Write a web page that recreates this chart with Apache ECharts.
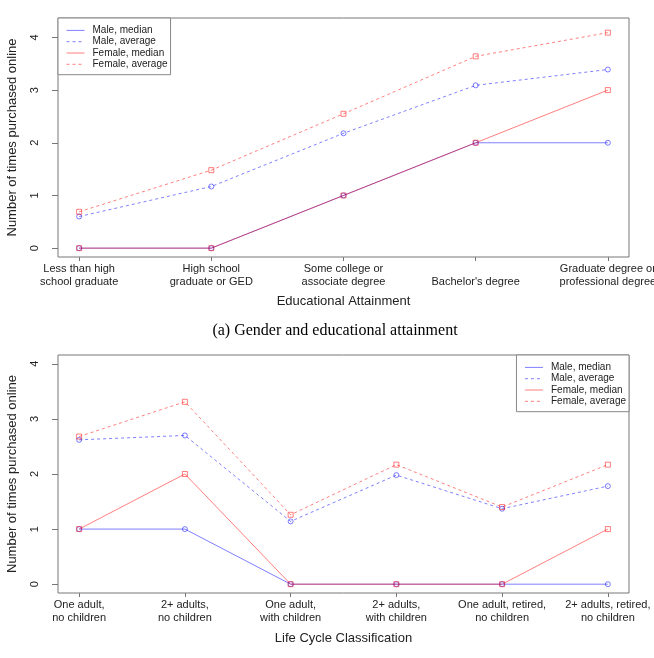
<!DOCTYPE html>
<html>
<head>
<meta charset="utf-8">
<script src="https://cdn.jsdelivr.net/npm/echarts@6/dist/echarts.min.js"></script>
<style>
html,body{margin:0;padding:0;background:#fff;}
#chart{width:654px;height:658px;}
</style>
</head>
<body>
<div id="chart"></div>
<script>
// ---- Data ----
const eduCategories = ['Less than high\nschool graduate', 'High school\ngraduate or GED', 'Some college or\nassociate degree', "\nBachelor's degree", 'Graduate degree or\nprofessional degree'];
const eduMaleMedian = [0, 0, 1, 2, 2];
const eduMaleAverage = [0.60, 1.17, 2.18, 3.09, 3.39];
const eduFemaleMedian = [0, 0, 1, 2, 3];
const eduFemaleAverage = [0.69, 1.48, 2.55, 3.64, 4.09];

const lifeCategories = ['One adult,\nno children', '2+ adults,\nno children', 'One adult,\nwith children', '2+ adults,\nwith children', 'One adult, retired,\nno children', '2+ adults, retired,\nno children'];
const lifeMaleMedian = [1, 1, 0, 0, 0, 0];
const lifeMaleAverage = [2.62, 2.70, 1.14, 1.98, 1.37, 1.78];
const lifeFemaleMedian = [1, 2, 0, 0, 0, 1];
const lifeFemaleAverage = [2.68, 3.31, 1.26, 2.17, 1.40, 2.17];

const yTicks = [0, 1, 2, 3, 4];
const seriesNames = ['Male, median', 'Male, average', 'Female, median', 'Female, average'];

// ---- Styles ----
const BLUE = 'rgba(0,0,255,0.5)';
const RED = 'rgba(255,0,0,0.5)';
const FONT = 'Liberation Sans, Arial, Helvetica, sans-serif';
const AXIS_COLOR = '#777';
const TEXT_COLOR = '#222';

const chart = echarts.init(document.getElementById('chart'), null, {renderer: 'canvas'});

function toPoints(arr) { return arr.map((v, i) => [i + 1, v]); }

function mkSeries(name, arr, gi, color, dashed, symbol) {
  return {
    name: name, type: 'line', xAxisIndex: gi, yAxisIndex: gi,
    data: toPoints(arr),
    symbol: symbol, symbolSize: 5, showSymbol: true,
    lineStyle: {color: color, width: 1, type: dashed ? [3, 3] : 'solid'},
    itemStyle: {color: 'rgba(0,0,0,0)', borderColor: color, borderWidth: 1},
    emphasis: {disabled: true},
    animation: false, z: 2
  };
}

function xAxisCfg(gi, cats, name, nameGap) {
  const n = cats.length;
  const pad = (n - 1) * 0.04;
  const vals = cats.map((c, i) => i + 1);
  return {
    type: 'value', gridIndex: gi, min: 1 - pad, max: n + pad,
    name: name, nameLocation: 'middle', nameGap: nameGap, nameMoveOverlap: false,
    nameTextStyle: {fontFamily: FONT, fontSize: 13, color: TEXT_COLOR},
    axisLine: {show: false, onZero: false},
    splitLine: {show: false},
    axisTick: {show: true, inside: false, length: 4, customValues: vals, lineStyle: {color: AXIS_COLOR}},
    axisLabel: {
      customValues: vals, margin: 5, fontFamily: FONT, fontSize: 11, lineHeight: 13, color: TEXT_COLOR,
      hideOverlap: false,
      formatter: function (v) { return cats[Math.round(v) - 1] || ''; }
    }
  };
}

function yAxisCfg(gi, ymax) {
  const pad = ymax * 0.04;
  return {
    type: 'value', gridIndex: gi, min: -pad, max: ymax + pad,
    name: 'Number of times purchased online', nameLocation: 'middle', nameGap: 39, nameMoveOverlap: false,
    nameTextStyle: {fontFamily: FONT, fontSize: 13, color: TEXT_COLOR},
    axisLine: {show: false, onZero: false},
    splitLine: {show: false},
    axisTick: {show: true, inside: false, length: 6, customValues: yTicks, lineStyle: {color: AXIS_COLOR}},
    axisLabel: {customValues: yTicks, rotate: 90, margin: 18, fontFamily: FONT, fontSize: 11, color: TEXT_COLOR,
      formatter: function (v) { return String(Math.round(v)); }}
  };
}

function legendCfg(pos) {
  const styles = [
    {color: BLUE, dashed: false}, {color: BLUE, dashed: true},
    {color: RED, dashed: false}, {color: RED, dashed: true}
  ];
  return Object.assign({
    orient: 'vertical',
    padding: [7, 3, 5, 8],
    itemWidth: 18, itemHeight: 11, itemGap: 0.5,
    borderColor: '#888', borderWidth: 1, backgroundColor: '#fff',
    selectedMode: false,
    textStyle: {fontFamily: FONT, fontSize: 10, color: TEXT_COLOR, padding: [0, 0, 0, 3]},
    itemStyle: {opacity: 0},
    data: seriesNames.map((nm, i) => ({
      name: nm,
      itemStyle: {opacity: 0},
      lineStyle: {color: styles[i].color, width: 1, type: styles[i].dashed ? [3, 3] : 'solid'}
    }))
  }, pos);
}

const option = {
  animation: false,
  backgroundColor: '#fff',
  grid: [
    {left: 58, right: 25, top: 18, height: 239, show: true, borderColor: AXIS_COLOR, borderWidth: 1, backgroundColor: 'transparent', outerBoundsMode: 'none', containLabel: false},
    {left: 58, right: 25, top: 355, height: 238, show: true, borderColor: AXIS_COLOR, borderWidth: 1, backgroundColor: 'transparent', outerBoundsMode: 'none', containLabel: false}
  ],
  xAxis: [
    xAxisCfg(0, eduCategories, 'Educational Attainment', 38),
    xAxisCfg(1, lifeCategories, 'Life Cycle Classification', 39)
  ],
  yAxis: [
    yAxisCfg(0, 4.2),
    yAxisCfg(1, 4)
  ],
  legend: [
    legendCfg({left: 58, top: 18}),
    legendCfg({right: 25, top: 355})
  ],
  graphic: [{
    type: 'text', x: 335, y: 331,
    style: {text: '(a) Gender and educational attainment', font: '16px "Liberation Serif", "Times New Roman", serif', fill: '#000', align: 'center', verticalAlign: 'middle'}
  }],
  series: [
    mkSeries('Male, median', eduMaleMedian, 0, BLUE, false, 'circle'),
    mkSeries('Male, average', eduMaleAverage, 0, BLUE, true, 'circle'),
    mkSeries('Female, median', eduFemaleMedian, 0, RED, false, 'rect'),
    mkSeries('Female, average', eduFemaleAverage, 0, RED, true, 'rect'),
    mkSeries('Male, median', lifeMaleMedian, 1, BLUE, false, 'circle'),
    mkSeries('Male, average', lifeMaleAverage, 1, BLUE, true, 'circle'),
    mkSeries('Female, median', lifeFemaleMedian, 1, RED, false, 'rect'),
    mkSeries('Female, average', lifeFemaleAverage, 1, RED, true, 'rect')
  ]
};
chart.setOption(option);
</script>
</body>
</html>
